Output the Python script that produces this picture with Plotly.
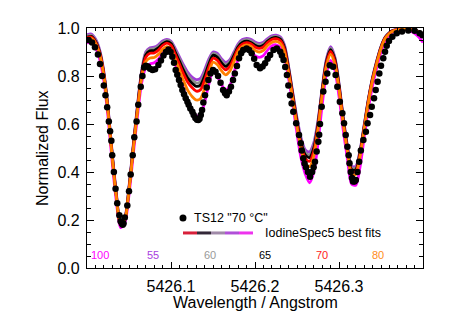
import plotly.graph_objects as go

# ---------------- data ----------------
fit_wave = [5426.000, 5426.005, 5426.010, 5426.015, 5426.020, 5426.025, 5426.030, 5426.035, 5426.040, 5426.045,
            5426.050, 5426.055, 5426.060, 5426.065, 5426.070, 5426.075, 5426.080, 5426.085, 5426.090, 5426.095,
            5426.100, 5426.105, 5426.110, 5426.115, 5426.120, 5426.125, 5426.130, 5426.135, 5426.140, 5426.145,
            5426.150, 5426.155, 5426.160, 5426.165, 5426.170, 5426.175, 5426.180, 5426.185, 5426.190, 5426.195,
            5426.200, 5426.205, 5426.210, 5426.215, 5426.220, 5426.225, 5426.230, 5426.235, 5426.240, 5426.245,
            5426.250, 5426.255, 5426.260, 5426.265, 5426.270, 5426.275, 5426.280, 5426.285, 5426.290, 5426.295,
            5426.300, 5426.305, 5426.310, 5426.315, 5426.320, 5426.325, 5426.330, 5426.335, 5426.340, 5426.345,
            5426.350, 5426.355, 5426.360, 5426.365, 5426.370, 5426.375, 5426.380, 5426.385, 5426.390, 5426.395,
            5426.400]

fit_55 = [.972, .975, .955, .910, .820, .670, .480, .310, .188, .210,
          .340, .510, .675, .820, .900, .918, .920, .930, .946, .953,
          .945, .915, .880, .845, .815, .795, .785, .790, .825, .870,
          .900, .895, .872, .857, .868, .900, .934, .952, .957, .953,
          .942, .936, .941, .956, .967, .970, .963, .930, .840, .730,
          .625, .540, .492, .484, .522, .615, .750, .870, .922, .880,
          .770, .630, .510, .425, .425, .490, .597, .705, .795, .865,
          .923, .962, .981, .991, .994, .995, .995, .993, .990, .985,
          .977]
fit_60 = [.967, .970, .950, .905, .815, .665, .475, .305, .185, .207,
          .335, .505, .670, .815, .895, .912, .914, .924, .940, .948,
          .940, .908, .872, .835, .803, .783, .771, .776, .813, .860,
          .894, .888, .864, .848, .861, .893, .928, .946, .951, .947,
          .935, .930, .935, .950, .962, .965, .958, .925, .835, .725,
          .617, .530, .481, .472, .511, .607, .745, .865, .916, .875,
          .765, .625, .505, .417, .417, .485, .594, .703, .793, .863,
          .921, .961, .980, .990, .993, .995, .995, .993, .990, .985,
          .977]
fit_65 = [.962, .965, .945, .900, .810, .660, .470, .300, .182, .204,
          .330, .500, .665, .810, .888, .905, .906, .917, .934, .943,
          .935, .900, .862, .823, .790, .770, .757, .762, .800, .850,
          .886, .879, .855, .840, .853, .886, .922, .940, .945, .940,
          .928, .922, .928, .945, .957, .961, .954, .920, .830, .720,
          .610, .520, .470, .460, .500, .600, .740, .860, .910, .870,
          .760, .620, .500, .410, .410, .480, .590, .700, .790, .860,
          .920, .960, .980, .990, .993, .995, .995, .993, .990, .985,
          .975]
fit_70 = [.960, .962, .942, .897, .807, .657, .467, .298, .180, .202,
          .328, .495, .660, .800, .878, .895, .896, .908, .927, .937,
          .928, .890, .850, .808, .774, .752, .737, .742, .782, .835,
          .874, .866, .842, .826, .840, .876, .914, .933, .939, .934,
          .921, .915, .921, .939, .952, .956, .948, .913, .822, .712,
          .600, .508, .456, .445, .486, .590, .732, .852, .902, .862,
          .753, .613, .494, .402, .402, .473, .585, .696, .787, .857,
          .917, .958, .978, .989, .993, .995, .995, .993, .990, .985,
          .975]
fit_80 = [.955, .957, .937, .890, .800, .650, .460, .292, .178, .200,
          .322, .490, .650, .790, .860, .875, .877, .890, .910, .922,
          .912, .870, .825, .780, .740, .715, .700, .705, .748, .810,
          .858, .848, .822, .805, .820, .860, .902, .922, .930, .924,
          .907, .900, .907, .927, .940, .944, .936, .900, .810, .700,
          .585, .490, .436, .423, .466, .575, .720, .840, .890, .850,
          .742, .603, .485, .390, .390, .463, .578, .690, .782, .853,
          .914, .956, .977, .988, .992, .994, .995, .993, .990, .985,
          .975]
fit_100 = [.938, .940, .920, .870, .780, .630, .440, .275, .168, .188,
           .305, .470, .630, .770, .835, .850, .855, .870, .895, .910,
           .898, .850, .800, .745, .690, .655, .635, .638, .690, .765,
           .820, .800, .765, .742, .760, .815, .870, .900, .913, .905,
           .885, .878, .885, .908, .925, .930, .920, .880, .790, .680,
           .560, .455, .390, .355, .400, .520, .680, .810, .865, .825,
           .715, .575, .455, .350, .345, .420, .545, .665, .760, .835,
           .900, .945, .970, .985, .990, .993, .993, .988, .978, .962,
           .940]

obs_wave = [5426.0020, 5426.0060, 5426.0095, 5426.0130, 5426.0155, 5426.0180, 5426.0200, 5426.0220, 5426.0240,
            5426.0260, 5426.0275, 5426.0290, 5426.0300, 5426.0320, 5426.0340, 5426.0360, 5426.0385, 5426.0400,
            5426.0415, 5426.0425, 5426.0435, 5426.0450, 5426.0480, 5426.0500, 5426.0520, 5426.0544, 5426.0563,
            5426.0590, 5426.0610, 5426.0640, 5426.0660, 5426.0680, 5426.0700, 5426.0725, 5426.0750, 5426.0780,
            5426.0810, 5426.0850, 5426.0880, 5426.0910, 5426.0940, 5426.0970, 5426.0995, 5426.1016, 5426.1036,
            5426.1056, 5426.1075, 5426.1095, 5426.1115, 5426.1135, 5426.1155, 5426.1175, 5426.1195, 5426.1210,
            5426.1230, 5426.1254, 5426.1270, 5426.1290, 5426.1310, 5426.1325, 5426.1340, 5426.1355, 5426.1370,
            5426.1385, 5426.1405, 5426.1425, 5426.1445, 5426.1470, 5426.1500, 5426.1530, 5426.1560, 5426.1590,
            5426.1620, 5426.1643, 5426.1663, 5426.1690, 5426.1714, 5426.1738, 5426.1760, 5426.1785, 5426.1810,
            5426.1835, 5426.1860, 5426.1900, 5426.1930, 5426.1960, 5426.1990, 5426.2020, 5426.2060, 5426.2090,
            5426.2120, 5426.2150, 5426.2180, 5426.2220, 5426.2260, 5426.2300, 5426.2320, 5426.2340, 5426.2360,
            5426.2380, 5426.2397, 5426.2417, 5426.2436, 5426.2456, 5426.2490, 5426.2524, 5426.2545, 5426.2556,
            5426.2575, 5426.2590, 5426.2607, 5426.2630, 5426.2655, 5426.2680, 5426.2698, 5426.2714, 5426.2734,
            5426.2754, 5426.2764, 5426.2774, 5426.2794, 5426.2813, 5426.2840, 5426.2860, 5426.2890, 5426.2930,
            5426.2960, 5426.2980, 5426.3010, 5426.3040, 5426.3060, 5426.3080, 5426.3100, 5426.3115, 5426.3125,
            5426.3140, 5426.3155, 5426.3167, 5426.3185, 5426.3200, 5426.3220, 5426.3240, 5426.3260, 5426.3290,
            5426.3320, 5426.3340, 5426.3370, 5426.3390, 5426.3417, 5426.3437, 5426.3460, 5426.3480, 5426.3500,
            5426.3527, 5426.3548, 5426.3568, 5426.3595, 5426.3635, 5426.3687, 5426.3750, 5426.3825, 5426.3900,
            5426.3960, 5426.3995]
obs_flux = [0.950, 0.940, 0.920, 0.890, 0.850, 0.800, 0.760, 0.720, 0.670,
            0.610, 0.570, 0.530, 0.470, 0.400, 0.330, 0.270, 0.220, 0.195,
            0.185, 0.180, 0.185, 0.210, 0.260, 0.320, 0.390, 0.470, 0.545,
            0.610, 0.680, 0.755, 0.800, 0.835, 0.843, 0.840, 0.830, 0.825,
            0.828, 0.846, 0.865, 0.885, 0.900, 0.910, 0.900, 0.880, 0.855,
            0.825, 0.805, 0.783, 0.762, 0.742, 0.724, 0.707, 0.693, 0.680,
            0.665, 0.651, 0.638, 0.625, 0.618, 0.617, 0.622, 0.638, 0.658,
            0.690, 0.720, 0.752, 0.783, 0.810, 0.825, 0.818, 0.800, 0.772,
            0.742, 0.728, 0.720, 0.735, 0.755, 0.783, 0.810, 0.842, 0.874,
            0.895, 0.908, 0.915, 0.908, 0.895, 0.872, 0.846, 0.832, 0.840,
            0.853, 0.872, 0.888, 0.908, 0.915, 0.901, 0.885, 0.867, 0.838,
            0.804, 0.760, 0.720, 0.685, 0.651, 0.603, 0.554, 0.520, 0.490,
            0.457, 0.435, 0.420, 0.400, 0.380, 0.400, 0.420, 0.443, 0.485,
            0.526, 0.555, 0.600, 0.672, 0.735, 0.776, 0.810, 0.845, 0.839,
            0.804, 0.755, 0.693, 0.645, 0.603, 0.554, 0.505, 0.470, 0.436,
            0.400, 0.375, 0.360, 0.360, 0.367, 0.400, 0.443, 0.490, 0.533,
            0.568, 0.603, 0.638, 0.672, 0.707, 0.742, 0.776, 0.810, 0.843,
            0.874, 0.901, 0.926, 0.946, 0.964, 0.978, 0.985, 0.990, 0.989,
            0.978, 0.970]

temps = ["100", "55", "60", "65", "70", "80"]
temp_colors = ["#ff00ff", "#a83ee0", "#999999", "#000000", "#ff1a1a", "#ff8c1a"]
temp_label_x = [0.039, 0.196, 0.366, 0.530, 0.699, 0.866]

# draw order: magenta first, orange last
fits = [("100", fit_100, "#ff00ff"), ("55", fit_55, "#a03cd8"), ("60", fit_60, "#8c8c8c"),
        ("65", fit_65, "#000000"), ("70", fit_70, "#ff0000"), ("80", fit_80, "#ff8000")]

legend_seg_colors = ["#d8203a", "#332838", "#a08aa8", "#b050d8", "#ee33ee"]
legend_seg_x = [0.2857, 0.3274, 0.3690, 0.4107, 0.4524, 0.4940]

FONT = "Liberation Sans, Arial, Helvetica, sans-serif"

fig = go.Figure()
for name, vals, col in fits:
    fig.add_trace(go.Scatter(x=fit_wave, y=vals, mode="lines", name=name,
                             line=dict(color=col, width=2.8, shape="spline", smoothing=0.8),
                             showlegend=False, hoverinfo="skip"))
fig.add_trace(go.Scatter(x=obs_wave, y=obs_flux, mode="markers", name='TS12 "70 °C"',
                         marker=dict(color="black", size=6.5, line=dict(width=0)),
                         showlegend=False))

shapes = []
for i, c in enumerate(legend_seg_colors):
    shapes.append(dict(type="line", xref="paper", yref="paper",
                       x0=legend_seg_x[i], x1=legend_seg_x[i + 1], y0=0.146, y1=0.146,
                       line=dict(color=c, width=3)))
shapes.append(dict(type="circle", xref="paper", yref="paper",
                   x0=0.2753, x1=0.2961, y0=0.1937, y1=0.2229,
                   fillcolor="black", line=dict(color="black", width=0)))

annotations = [
    dict(text='TS12 "70 °C"', xref="paper", yref="paper", x=0.3125, y=0.208,
         xanchor="left", yanchor="middle", showarrow=False,
         font=dict(family=FONT, size=12.5, color="black")),
    dict(text="IodineSpec5 best fits", xref="paper", yref="paper", x=0.5238, y=0.146,
         xanchor="left", yanchor="middle", showarrow=False,
         font=dict(family=FONT, size=12.5, color="black")),
    dict(text="Normalized Flux", xref="paper", yref="paper", x=-0.134, y=0.5,
         xanchor="center", yanchor="middle", textangle=-90, showarrow=False,
         font=dict(family=FONT, size=16, color="black")),
    dict(text="Wavelength / Angstrom", xref="paper", yref="paper", x=0.5, y=-0.142,
         xanchor="center", yanchor="middle", showarrow=False,
         font=dict(family=FONT, size=16, color="black")),
]
for t, c, xp in zip(temps, temp_colors, temp_label_x):
    annotations.append(dict(text=t, xref="paper", yref="paper", x=xp, y=0.054,
                            xanchor="center", yanchor="middle", showarrow=False,
                            font=dict(family=FONT, size=11, color=c)))

fig.update_layout(
    width=450, height=325,
    margin=dict(l=87, r=27, t=28, b=57),
    paper_bgcolor="white", plot_bgcolor="white",
    font=dict(family=FONT, size=16, color="black"),
    shapes=shapes, annotations=annotations,
    showlegend=False,
)
fig.update_xaxes(
    range=[5426.0, 5426.4], tickmode="array", tickvals=[5426.1, 5426.2, 5426.3],
    ticktext=["5426.1", "5426.2", "5426.3"],
    ticks="inside", ticklen=6, tickwidth=1, tickcolor="black",
    showline=True, linecolor="black", linewidth=1.3, mirror="allticks",
    showgrid=False, zeroline=False, ticklabelstandoff=4,
    tickfont=dict(family=FONT, size=16),
    minor=dict(tickmode="linear", tick0=5426.0, dtick=0.01, ticks="inside", ticklen=3,
               tickcolor="black", showgrid=False),
)
fig.update_yaxes(
    range=[0, 1], tickmode="array", tickvals=[0, 0.2, 0.4, 0.6, 0.8, 1.0],
    ticktext=["0.0", "0.2", "0.4", "0.6", "0.8", "1.0"],
    ticks="inside", ticklen=7, tickwidth=1, tickcolor="black",
    showline=True, linecolor="black", linewidth=1.3, mirror="allticks",
    showgrid=False, zeroline=False, ticklabelstandoff=3,
    tickfont=dict(family=FONT, size=16),
    minor=dict(tickmode="linear", tick0=0, dtick=0.05, ticks="inside", ticklen=4,
               tickcolor="black", showgrid=False),
)

fig.write_html("out.html", config={"displayModeBar": False},
               post_script="document.body.style.margin='0px';document.body.style.overflow='hidden';")
